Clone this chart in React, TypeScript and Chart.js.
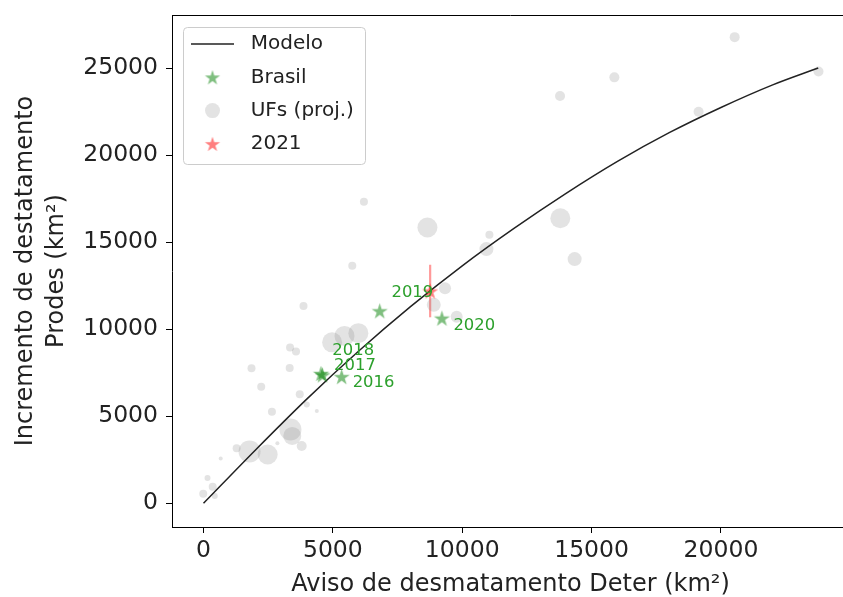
import React, { useEffect, useRef } from 'react';
import { Chart, registerables } from 'chart.js';

Chart.register(...registerables);

const FONT = 'DejaVu Sans';

// Model curve
const modelX = [0, 2000, 4000, 6000, 8000, 10000, 12000, 14000, 16000, 18000, 20000, 22000, 23760];
const modelY = [0, 3050, 6000, 8750, 11300, 13650, 15800, 17800, 19650, 21300, 22750, 24050, 25020];

// Brasil (annual) points
const brasilYears = ['2016', '2017', '2018', '2019', '2020'];
const brasilX = [5340, 4600, 4540, 6810, 9215];
const brasilY = [7280, 7380, 7460, 11060, 10640];

// UFs (projected) points and bubble sizes
const ufX = [20530, 15880, 13780, 19135, 23770, 13790, 14345, 11050, 10935, 9335, 8900, 9785, 8655, 6200, 5750, 3865, 4970, 5450, 5985, 3345, 3575, 1855, 3330, 2230, 3720, 3990, 4380, 2645, 3360, 3430, 3795, 2855, 1280, 1780, 2480, 665, 155, 355, -10, 435];
const ufY = [26790, 24480, 23410, 22505, 24820, 16380, 14035, 15430, 14610, 12365, 11405, 10715, 15850, 17330, 13650, 11345, 9250, 9620, 9780, 8960, 8720, 7765, 7780, 6705, 6270, 5680, 5310, 5260, 4245, 3870, 3295, 3450, 3165, 2980, 2805, 2575, 1455, 955, 545, 420];
const ufR = [5, 5, 5, 5, 5, 10, 7, 4, 7, 6, 7, 6, 10, 4, 4, 4, 10, 10, 10, 4, 4, 4, 4, 4, 4, 3, 2, 4, 11, 9, 5, 2, 4, 11, 10, 2, 3, 4, 4, 3];

// 2021 estimate with error
const y2021X = [8760];
const y2021Y = [12200];
const y2021Err = [1510];

const xTicks = [0, 5000, 10000, 15000, 20000];
const yTicks = [0, 5000, 10000, 15000, 20000, 25000];

// label offsets in px (style)
const labelOffsets: [number, number][] = [[11, 6], [11.6, -9.5], [11.4, -23], [11.8, -18.5], [11.5, 7.5]];

function makeStar(color: string, R: number): HTMLCanvasElement {
  const size = Math.ceil(2 * R + 2);
  const c = document.createElement('canvas');
  c.width = size;
  c.height = size;
  const ctx = c.getContext('2d')!;
  const cx = size / 2;
  const cy = size / 2 + R * 0.1;
  const r = R * 0.382;
  ctx.beginPath();
  for (let i = 0; i < 10; i++) {
    const rad = i % 2 === 0 ? R : r;
    const a = -Math.PI / 2 + (i * Math.PI) / 5;
    const px = cx + rad * Math.cos(a);
    const py = cy + rad * Math.sin(a);
    if (i === 0) ctx.moveTo(px, py);
    else ctx.lineTo(px, py);
  }
  ctx.closePath();
  ctx.fillStyle = color;
  ctx.fill();
  return c;
}

export default function App() {
  const ref = useRef<HTMLCanvasElement | null>(null);

  useEffect(() => {
    if (!ref.current) return;
    const greenStar = makeStar('rgba(0,128,0,0.5)', 8.5);
    const redStar = makeStar('rgba(255,0,0,0.5)', 8.5);
    const greenStarL = makeStar('rgba(0,128,0,0.5)', 8);
    const redStarL = makeStar('rgba(255,0,0,0.5)', 8);
    const greyColor = 'rgba(128,128,128,0.22)';

    const extras = {
      id: 'extras',
      beforeDatasetsDraw(chart: any) {
        const { ctx, scales } = chart;
        const xs = scales.x, ys = scales.y;
        ctx.save();
        ctx.strokeStyle = 'rgba(255,0,0,0.4)';
        ctx.lineWidth = 2.2;
        for (let i = 0; i < y2021X.length; i++) {
          const px = xs.getPixelForValue(y2021X[i]);
          ctx.beginPath();
          ctx.moveTo(px, ys.getPixelForValue(y2021Y[i] + y2021Err[i]));
          ctx.lineTo(px, ys.getPixelForValue(y2021Y[i] - y2021Err[i]));
          ctx.stroke();
        }
        ctx.restore();
      },
      afterDatasetsDraw(chart: any) {
        const { ctx, chartArea: ca } = chart;
        ctx.save();
        // year labels
        const meta = chart.getDatasetMeta(1);
        ctx.font = `16.4px "${FONT}"`;
        ctx.fillStyle = 'rgb(44,160,44)';
        ctx.textAlign = 'left';
        ctx.textBaseline = 'middle';
        meta.data.forEach((pt: any, i: number) => {
          const [dx, dy] = labelOffsets[i];
          ctx.fillText(brasilYears[i], pt.x + dx, pt.y + dy);
        });
        // frame top/right
        ctx.strokeStyle = '#000';
        ctx.lineWidth = 1;
        ctx.beginPath();
        ctx.moveTo(ca.left, Math.round(ca.top) + 0.5);
        ctx.lineTo(ca.right, Math.round(ca.top) + 0.5);
        ctx.lineTo(ca.right, ca.bottom);
        ctx.stroke();
        // legend
        const lx = ca.left + 11, ly = ca.top + 12, lw = 182, lh = 137;
        ctx.beginPath();
        (ctx as any).roundRect(lx + 0.5, ly + 0.5, lw, lh, 4);
        ctx.fillStyle = 'rgba(255,255,255,0.8)';
        ctx.fill();
        ctx.strokeStyle = '#cccccc';
        ctx.stroke();
        const ds = chart.data.datasets;
        const hx = lx + 29.5;
        const tx = lx + 67.7;
        ctx.font = `20px "${FONT}"`;
        ctx.textBaseline = 'middle';
        ctx.textAlign = 'left';
        ds.forEach((d: any, i: number) => {
          const cy = ly + 17 + i * 33.3;
          if (i === 0) {
            ctx.strokeStyle = '#222';
            ctx.lineWidth = 1.5;
            ctx.beginPath();
            ctx.moveTo(hx - 21.5, cy);
            ctx.lineTo(hx + 21.5, cy);
            ctx.stroke();
          } else if (i === 2) {
            ctx.fillStyle = greyColor;
            ctx.beginPath();
            ctx.arc(hx, cy, 7.5, 0, Math.PI * 2);
            ctx.fill();
          } else {
            const img = i === 1 ? greenStarL : redStarL;
            ctx.drawImage(img, hx - img.width / 2, cy - img.height / 2);
          }
          ctx.fillStyle = '#222';
          ctx.fillText(d.label, tx, cy);
        });
        ctx.restore();
      },
    };

    const tickFont = { family: FONT, size: 23.5 };

    const chart = new Chart(ref.current, {
      type: 'scatter',
      data: {
        datasets: [
          {
            type: 'line',
            label: 'Modelo',
            data: modelX.map((x, i) => ({ x, y: modelY[i] })),
            borderColor: '#222',
            borderWidth: 1.5,
            pointRadius: 0,
            cubicInterpolationMode: 'monotone',
            fill: false,
            order: 2,
          } as any,
          {
            type: 'scatter',
            label: 'Brasil',
            data: brasilX.map((x, i) => ({ x, y: brasilY[i] })),
            pointStyle: greenStar,
            pointRadius: 8,
            order: 1,
          } as any,
          {
            type: 'bubble',
            label: 'UFs (proj.)',
            data: ufX.map((x, i) => ({ x, y: ufY[i], r: ufR[i] })),
            backgroundColor: greyColor,
            borderWidth: 0,
            order: 3,
          } as any,
          {
            type: 'scatter',
            label: '2021',
            data: y2021X.map((x, i) => ({ x, y: y2021Y[i] })),
            pointStyle: redStar,
            pointRadius: 8,
            order: 0,
          } as any,
        ],
      },
      options: {
        responsive: false,
        animation: false,
        devicePixelRatio: 1,
        events: [],
        layout: { padding: { left: 0, top: 15, right: 7, bottom: 0 } },
        plugins: { legend: { display: false }, tooltip: { enabled: false } },
        scales: {
          x: {
            type: 'linear',
            min: -1218,
            max: 24949,
            afterBuildTicks: (s: any) => { s.ticks = xTicks.map((v) => ({ value: v })); },
            afterFit: (s: any) => { s.height = 70; s.paddingLeft = 0; s.paddingRight = 0; },
            ticks: { font: tickFont, color: '#222', padding: 4, maxRotation: 0, autoSkip: false, callback: (v: any) => String(v) },
            grid: { drawOnChartArea: false, drawTicks: true, tickLength: 6, color: '#000', tickWidth: 1 },
            border: { display: true, color: '#000', width: 1 },
            title: {
              display: true,
              text: 'Aviso de desmatamento Deter (km²)',
              font: { family: FONT, size: 24, lineHeight: 1 },
              color: '#222',
              padding: { top: 0, bottom: 0 },
            },
          },
          y: {
            type: 'linear',
            min: -1362,
            max: 28063,
            afterBuildTicks: (s: any) => { s.ticks = yTicks.map((v) => ({ value: v })); },
            afterFit: (s: any) => { s.width = 172; s.paddingTop = 0; s.paddingBottom = 0; },
            ticks: { font: tickFont, color: '#222', padding: 8, autoSkip: false, callback: (v: any) => String(v) },
            grid: { drawOnChartArea: false, drawTicks: true, tickLength: 6, color: '#000', tickWidth: 1 },
            border: { display: true, color: '#000', width: 1 },
            title: {
              display: true,
              text: ['Incremento de destatamento', 'Prodes (km²)'],
              font: { family: FONT, size: 24, lineHeight: 1.32 },
              color: '#222',
              padding: { top: 9.5, bottom: 0 },
            },
          },
        },
      } as any,
      plugins: [extras],
    });
    return () => chart.destroy();
  }, []);

  return (
    <div style={{ position: 'absolute', left: 0, top: 0, width: 843, height: 597, overflow: 'hidden', background: '#fff' }}>
      <canvas ref={ref} width={860} height={597} style={{ display: 'block', width: 860, height: 597 }} />
    </div>
  );
}
